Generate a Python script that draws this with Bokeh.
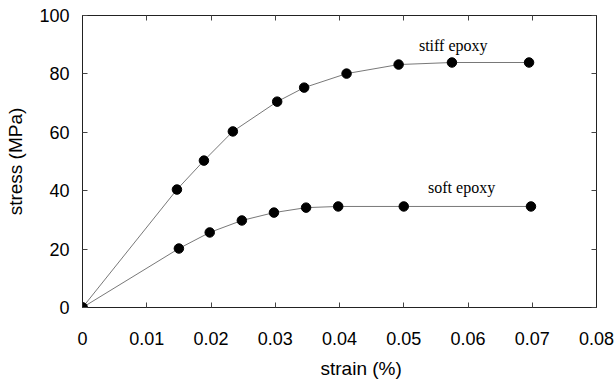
from bokeh.plotting import figure
from bokeh.models import LinearAxis, FixedTicker, Range1d, Label, Title
from bokeh.embed import file_html
from bokeh.resources import INLINE

stiff_strain = [0.0, 0.0147, 0.0189, 0.0234, 0.0303, 0.0345, 0.0411, 0.0492, 0.0575, 0.0695]
stiff_stress = [0.0, 40.4, 50.3, 60.3, 70.5, 75.3, 80.1, 83.2, 83.9, 83.9]
soft_strain = [0.0, 0.0150, 0.0198, 0.0248, 0.0298, 0.0348, 0.0398, 0.0500, 0.0698]
soft_stress = [0.0, 20.2, 25.7, 29.8, 32.5, 34.2, 34.6, 34.6, 34.6]
x_ticks = [0, 0.01, 0.02, 0.03, 0.04, 0.05, 0.06, 0.07, 0.08]
y_ticks = [0, 20, 40, 60, 80, 100]

p = figure(width=615, height=387, output_backend="svg", toolbar_location=None,
           x_range=Range1d(0, 0.08), y_range=Range1d(0, 100),
           min_border_left=82, min_border_right=19, min_border_top=15, min_border_bottom=80)
p.xgrid.visible = False
p.ygrid.visible = False
p.outline_line_color = "#222222"
p.outline_line_width = 1
p.background_fill_color = "white"
p.border_fill_color = "white"

for ax in (p.xaxis[0], p.yaxis[0]):
    ax.major_tick_in = 5
    ax.major_tick_out = 0
    ax.minor_tick_in = 0
    ax.minor_tick_out = 0
    ax.axis_line_color = "#222222"
    ax.major_tick_line_color = "#444444"
    ax.major_label_text_font = "Liberation Sans"
    ax.major_label_text_font_size = "18px"
    ax.major_label_text_color = "black"

p.xaxis[0].ticker = FixedTicker(ticks=x_ticks)
p.xaxis[0].major_label_overrides = {0: "0"}
p.xaxis[0].major_label_standoff = 24

p.yaxis[0].ticker = FixedTicker(ticks=y_ticks)
p.yaxis[0].major_label_standoff = 13
p.yaxis[0].axis_label = "stress (MPa)"
p.yaxis[0].axis_label_standoff = 10
p.yaxis[0].axis_label_text_font = "Liberation Sans"
p.yaxis[0].axis_label_text_font_size = "19px"
p.yaxis[0].axis_label_text_font_style = "normal"
p.yaxis[0].axis_label_text_color = "black"

for loc, ticks in (("above", x_ticks), ("right", y_ticks)):
    ax = LinearAxis(ticker=FixedTicker(ticks=ticks))
    ax.major_tick_in = 5
    ax.major_tick_out = 0
    ax.minor_tick_in = 0
    ax.minor_tick_out = 0
    ax.major_label_text_font_size = "0px"
    ax.major_label_text_alpha = 0
    ax.axis_line_color = "#222222"
    ax.major_tick_line_color = "#444444"
    p.add_layout(ax, loc)

p.add_layout(Title(text="strain (%)", align="left", offset=238, standoff=17,
                   text_font="Liberation Sans", text_font_size="19px",
                   text_font_style="normal", text_color="black"), "below")

p.line(stiff_strain, stiff_stress, line_color="#555555", line_width=0.8)
p.line(soft_strain, soft_stress, line_color="#555555", line_width=0.8)
p.scatter(stiff_strain, stiff_stress, size=9.5, fill_color="black", line_color="black")
p.scatter(soft_strain, soft_stress, size=9.5, fill_color="black", line_color="black")

p.add_layout(Label(x=0.0577, y=86.8, text="stiff epoxy", text_align="center",
                   text_font="Liberation Serif", text_font_size="16px", text_color="black"))
p.add_layout(Label(x=0.0590, y=38.2, text="soft epoxy", text_align="center",
                   text_font="Liberation Serif", text_font_size="16px", text_color="black"))

open("out.html", "w").write(file_html(p, INLINE))
